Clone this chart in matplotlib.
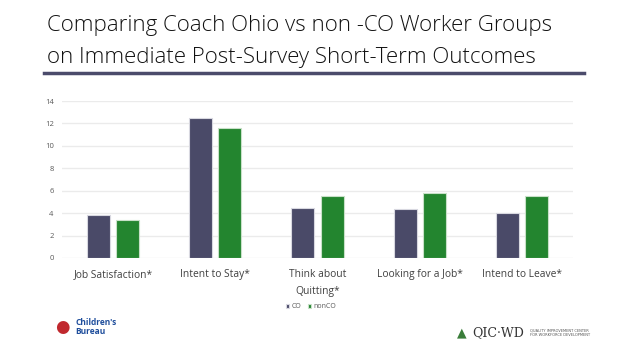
import matplotlib
matplotlib.use("Agg")
import matplotlib.pyplot as plt
import numpy as np

categories = ["Job Satisfaction*", "Intent to Stay*", "Think about\nQuitting*", "Looking for a Job*", "Intend to Leave*"]
co_values = [3.85, 12.45, 4.45, 4.35, 4.05]
nonco_values = [3.4, 11.55, 5.5, 5.8, 5.5]
series_names = ["CO", "nonCO"]
yticks = [0, 2, 4, 6, 8, 10, 12, 14]

W, H = 624, 351
fig = plt.figure(figsize=(W / 100, H / 100), dpi=100)
fig.patch.set_facecolor("white")

# Title
fig.text(47 / W, 1 - 26 / H, "Comparing Coach Ohio vs non -CO Worker Groups", fontsize=16,
         family="Open Sans", fontweight="light", color="#111111", va="center", ha="left")
fig.text(47 / W, 1 - 58 / H, "on Immediate Post-Survey Short-Term Outcomes", fontsize=16,
         family="Open Sans", fontweight="light", color="#111111", va="center", ha="left")
fig.add_artist(plt.Line2D([44 / W, 584 / W], [1 - 73 / H, 1 - 73 / H], color="#4b4b6b", lw=2.5))

# Axes
ax = fig.add_axes([62 / W, 1 - 258 / H, (573 - 62) / W, (258 - 101) / H])
x = np.arange(len(categories))
bw = 0.225
gap = 0.03
ax.bar(x - bw / 2 - gap, co_values, bw, color="#4a4a68", edgecolor="#d8d8e0", linewidth=0.8, label=series_names[0], zorder=3)
ax.bar(x + bw / 2 + gap, nonco_values, bw, color="#23852f", edgecolor="#c8e0c8", linewidth=0.8, label=series_names[1], zorder=3)
ax.set_xlim(-0.5, len(categories) - 0.5)
ax.set_ylim(0, 14)
ax.set_yticks(yticks)
ax.set_yticklabels([str(v) for v in yticks], fontsize=5.5, color="#595959", family="Open Sans")
ax.set_xticks(x)
ax.set_xticklabels(categories, fontsize=7.4, color="#404040", family="Open Sans", linespacing=1.75)
ax.tick_params(axis="both", length=0)
ax.tick_params(axis="y", pad=6)
ax.tick_params(axis="x", pad=8)
ax.grid(axis="y", color="#ebebeb", linewidth=1, zorder=0)
for s in ax.spines.values():
    s.set_visible(False)
ax.set_facecolor("white")

leg = ax.legend(loc="upper center", bbox_to_anchor=(0.487, -0.25), ncol=2, frameon=False,
                handlelength=0.5, handleheight=0.6, handletextpad=0.3, columnspacing=1.0,
                prop={"family": "Open Sans", "size": 5})
for t in leg.get_texts():
    t.set_color("#595959")

# Logos as text
fig.text(75 / W, 1 - 327 / H, "Children's\nBureau", fontsize=6, fontweight="bold", color="#1f4e9c",
         family="Open Sans", va="center", ha="left", linespacing=0.9)
fig.text(62 / W, 1 - 327 / H, "\u25CF", fontsize=12, color="#c0282e", va="center", ha="center")
fig.text(472 / W, 1 - 333 / H, "QIC\u00B7WD", fontsize=9, color="#333333", family="DejaVu Serif",
         va="center", ha="left")
fig.text(462 / W, 1 - 333 / H, "\u25B2", fontsize=9, color="#3a7d3a", va="center", ha="center")
fig.text(530 / W, 1 - 333 / H, "QUALITY IMPROVEMENT CENTER\nFOR WORKFORCE DEVELOPMENT", fontsize=2.6,
         color="#555555", va="center", ha="left", linespacing=1.2)

fig.savefig("out.png", dpi=100)
